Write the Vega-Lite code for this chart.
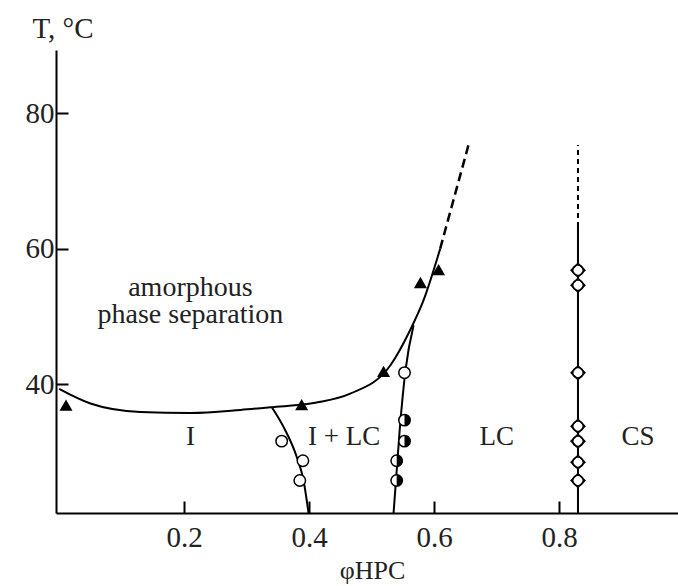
{
  "$schema": "https://vega.github.io/schema/vega-lite/v6.json",
  "width": 622,
  "height": 463,
  "autosize": "none",
  "padding": {"left": 56, "top": 50, "right": 0, "bottom": 73},
  "background": "white",
  "config": {"view": {"stroke": null}, "font": "Liberation Serif"},
  "data": {
    "values": [
      {"kind": "bin", "x": 0.0, "T": 39.3},
      {"kind": "bin", "x": 0.05, "T": 37.15},
      {"kind": "bin", "x": 0.13, "T": 35.9},
      {"kind": "bin", "x": 0.21, "T": 35.75},
      {"kind": "bin", "x": 0.29, "T": 36.2},
      {"kind": "bin", "x": 0.338, "T": 36.6},
      {"kind": "bin", "x": 0.412, "T": 37.3},
      {"kind": "bin", "x": 0.4656, "T": 38.6},
      {"kind": "bin", "x": 0.53, "T": 42.8},
      {"kind": "bin", "x": 0.5616, "T": 48.0},
      {"kind": "bin", "x": 0.583, "T": 52.4},
      {"kind": "bin", "x": 0.6096, "T": 60.0},
      {"kind": "bindash", "x": 0.6096, "T": 60.0},
      {"kind": "bindash", "x": 0.6555, "T": 75.5},
      {"kind": "left", "x": 0.340, "T": 36.65},
      {"kind": "left", "x": 0.359, "T": 33.7},
      {"kind": "left", "x": 0.380, "T": 29.3},
      {"kind": "left", "x": 0.391, "T": 25.8},
      {"kind": "left", "x": 0.399, "T": 21.0},
      {"kind": "right", "x": 0.535, "T": 21.0},
      {"kind": "right", "x": 0.545, "T": 33.5},
      {"kind": "right", "x": 0.554, "T": 42.0},
      {"kind": "right", "x": 0.567, "T": 48.7},
      {"kind": "cs", "x": 0.83, "T": 21.0, "T2": 63.2},
      {"kind": "csdash", "x": 0.83, "T": 63.2, "T2": 75.3},
      {"kind": "tri", "x": 0.011, "T": 36.9},
      {"kind": "tri", "x": 0.388, "T": 37.0},
      {"kind": "tri", "x": 0.519, "T": 41.9},
      {"kind": "tri", "x": 0.578, "T": 55.0},
      {"kind": "tri", "x": 0.607, "T": 56.9},
      {"kind": "oc", "x": 0.356, "T": 31.6},
      {"kind": "oc", "x": 0.390, "T": 28.7},
      {"kind": "oc", "x": 0.385, "T": 25.8},
      {"kind": "oc", "x": 0.5525, "T": 41.7},
      {"kind": "hc", "x": 0.5525, "T": 34.7},
      {"kind": "hc", "x": 0.5525, "T": 31.6},
      {"kind": "hc", "x": 0.540, "T": 28.7},
      {"kind": "hc", "x": 0.540, "T": 25.8},
      {"kind": "csm", "x": 0.83, "T": 56.8},
      {"kind": "csm", "x": 0.83, "T": 54.6},
      {"kind": "csm", "x": 0.83, "T": 41.7},
      {"kind": "csm", "x": 0.83, "T": 33.8},
      {"kind": "csm", "x": 0.83, "T": 31.6},
      {"kind": "csm", "x": 0.83, "T": 28.5},
      {"kind": "csm", "x": 0.83, "T": 25.8},
      {"kind": "lbl", "x": 0.21, "T": 54.2, "label": "amorphous\nphase separation", "fs": "a"},
      {"kind": "lbl", "x": 0.21, "T": 32.2, "label": "I", "fs": "b"},
      {"kind": "lbl", "x": 0.456, "T": 32.2, "label": "I + LC", "fs": "b"},
      {"kind": "lbl", "x": 0.70, "T": 32.2, "label": "LC", "fs": "b"},
      {"kind": "lbl", "x": 0.926, "T": 32.2, "label": "CS", "fs": "b"}
    ]
  },
  "encoding": {
    "x": {
      "field": "x",
      "type": "quantitative",
      "scale": {"domain": [-0.005, 0.99], "nice": false, "zero": false},
      "axis": {
        "values": [0.2, 0.4, 0.6, 0.8],
        "format": ".1f",
        "grid": false,
        "domainColor": "black",
        "domainWidth": 2,
        "tickColor": "black",
        "tickWidth": 2,
        "tickSize": -12,
        "labelPadding": 22,
        "labelFont": "Liberation Serif",
        "labelFontSize": 29,
        "labelColor": "#222",
        "title": "φHPC",
        "titleFont": "Liberation Serif",
        "titleFontSize": 26,
        "titleFontWeight": "normal",
        "titleColor": "#222",
        "titleX": 316,
        "titleY": 57,
        "titleBaseline": "middle",
        "titleAlign": "center"
      }
    },
    "y": {
      "field": "T",
      "type": "quantitative",
      "scale": {"domain": [21, 89.3], "nice": false, "zero": false},
      "axis": {
        "values": [40, 60, 80],
        "grid": false,
        "domainColor": "black",
        "domainWidth": 2,
        "tickColor": "black",
        "tickWidth": 2,
        "tickSize": -12,
        "labelPadding": 14,
        "labelFont": "Liberation Serif",
        "labelFontSize": 29,
        "labelColor": "#222",
        "title": "T, °C",
        "titleFont": "Liberation Serif",
        "titleFontSize": 29,
        "titleFontWeight": "normal",
        "titleColor": "#222",
        "titleAngle": 0,
        "titleAlign": "left",
        "titleBaseline": "middle",
        "titleX": -24,
        "titleY": -22
      }
    }
  },
  "layer": [
    {"transform": [{"filter": "datum.kind == 'bin'"}], "mark": {"type": "line", "interpolate": "monotone", "color": "black", "strokeWidth": 2}},
    {"transform": [{"filter": "datum.kind == 'bindash'"}], "mark": {"type": "line", "color": "black", "strokeWidth": 2.5, "strokeDash": [9, 5]}},
    {"transform": [{"filter": "datum.kind == 'left'"}], "mark": {"type": "line", "interpolate": "monotone", "color": "black", "strokeWidth": 2}},
    {"transform": [{"filter": "datum.kind == 'right'"}], "mark": {"type": "line", "interpolate": "monotone", "color": "black", "strokeWidth": 2}},
    {"transform": [{"filter": "datum.kind == 'cs'"}], "mark": {"type": "rule", "color": "black", "strokeWidth": 2}, "encoding": {"y2": {"field": "T2"}}},
    {"transform": [{"filter": "datum.kind == 'csdash'"}], "mark": {"type": "rule", "color": "black", "strokeWidth": 2, "strokeDash": [5, 4]}, "encoding": {"y2": {"field": "T2"}}},
    {"transform": [{"filter": "datum.kind == 'tri'"}], "mark": {"type": "point", "shape": "triangle-up", "filled": true, "color": "black", "opacity": 1, "size": 170}},
    {"transform": [{"filter": "datum.kind == 'oc' || datum.kind == 'hc'"}], "mark": {"type": "point", "shape": "circle", "filled": true, "fill": "white", "stroke": "black", "strokeWidth": 1.5, "opacity": 1, "size": 130}},
    {"transform": [{"filter": "datum.kind == 'hc'"}], "mark": {"type": "point", "shape": "M0,-1A1,1,0,0,1,0,1Z", "filled": true, "color": "black", "opacity": 1, "size": 130}},
    {"transform": [{"filter": "datum.kind == 'csm'"}], "mark": {"type": "point", "shape": "diamond", "filled": true, "fill": "white", "stroke": "black", "strokeWidth": 1.5, "opacity": 1, "size": 190}},
    {"transform": [{"filter": "datum.kind == 'csm'"}], "mark": {"type": "point", "shape": "circle", "filled": false, "stroke": "black", "strokeWidth": 1.5, "opacity": 1, "size": 110}},
    {"transform": [{"filter": "datum.kind == 'lbl' && datum.fs == 'a'"}], "mark": {"type": "text", "font": "Liberation Serif", "fontSize": 28, "lineHeight": 27, "lineBreak": "\n", "color": "#222", "align": "center", "baseline": "middle"}, "encoding": {"text": {"field": "label"}}},
    {"transform": [{"filter": "datum.kind == 'lbl' && datum.fs == 'b'"}], "mark": {"type": "text", "font": "Liberation Serif", "fontSize": 27, "color": "#222", "align": "center", "baseline": "middle"}, "encoding": {"text": {"field": "label"}}}
  ]
}
